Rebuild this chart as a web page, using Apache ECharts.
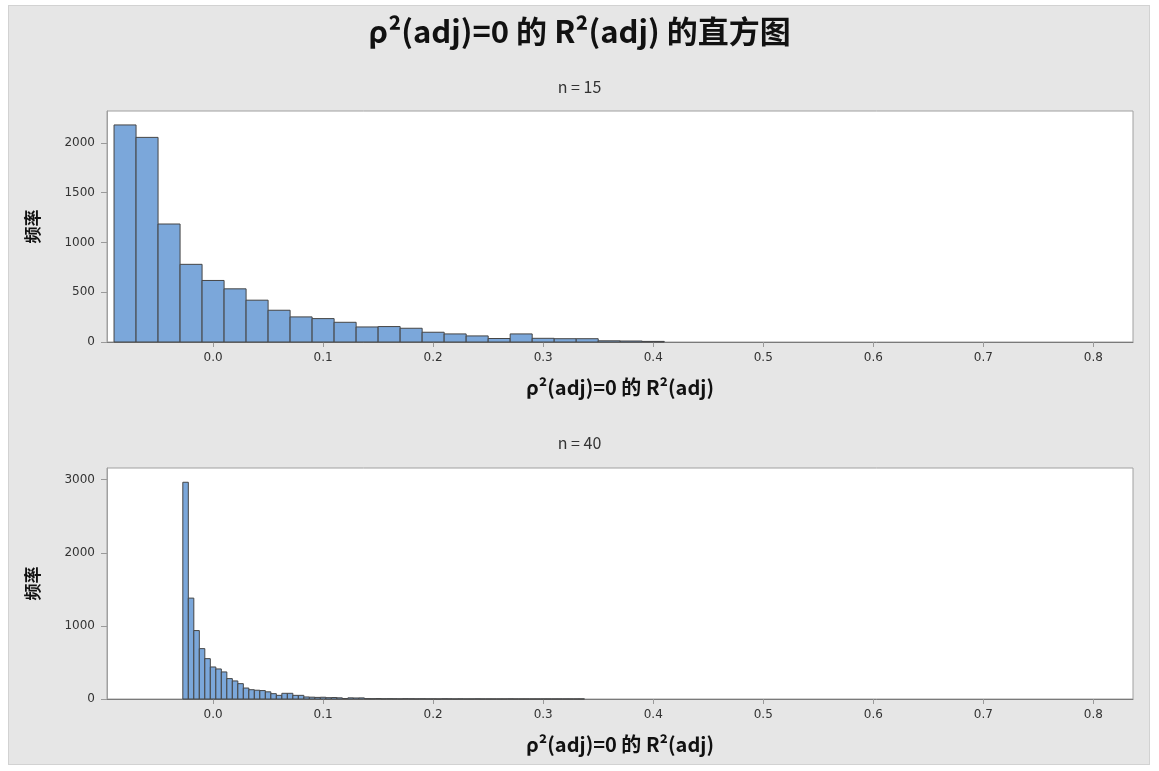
<!DOCTYPE html>
<html>
<head>
<meta charset="utf-8">
<title>R2(adj) 直方图</title>
<script src="https://cdn.jsdelivr.net/npm/echarts@6/dist/echarts.min.js"></script>
<style>
  html, body { margin: 0; padding: 0; background: #fff; }
  #frame { position: absolute; left: 8px; top: 5px; width: 1142px; height: 760px; background: #e6e6e6; border: 1px solid #d2d2d2; box-sizing: border-box; }
  #chart { position: absolute; left: 0; top: 0; width: 1159px; height: 771px; }
</style>
</head>
<body>
<div id="frame"></div>
<div id="chart"></div>
<script>
// 横轴刻度（两个面板共用）
var xTicks = [0, 0.1, 0.2, 0.3, 0.4, 0.5, 0.6, 0.7, 0.8]

// n = 15：组宽 0.02，从 -0.09 开始
var topBinStart = -0.09
var topBinWidth = 0.02
var topCounts = [2180, 2055, 1185, 780, 618, 534, 420, 319, 252, 235, 198, 151, 155, 138, 98, 81, 61, 35, 81, 37, 33, 33, 12, 10, 6]
var topYTicks = [0, 500, 1000, 1500, 2000]

// n = 40：组宽 0.005，从 -0.0275 开始
var bottomBinStart = -0.0275
var bottomBinWidth = 0.005
var bottomCounts = [
  2965, 1380, 936, 689, 552, 438, 411, 370, 279, 247, 210, 150, 127, 120, 115, 98, 73, 50, 78, 78, 50, 50,
  28, 25, 22, 24, 18, 20, 16, 6, 16, 14, 15,
  5, 4, 6, 3, 4, 3, 2, 4, 3, 2, 3, 2, 2, 1, 3, 2, 1, 2, 1, 1, 2, 1, 1, 1, 1, 1, 2, 1, 1, 1, 1, 1, 1, 1, 1, 1, 1, 1, 1, 1
]
var bottomYTicks = [0, 1000, 2000, 3000]

var xName = 'ρ²(adj)=0 的 R²(adj)'
var font = 'Noto Sans CJK SC'
var tickFont = 'DejaVu Sans'

function toBins(start, width, counts) {
  return counts.map(function (c, i) {
    return [start + i * width, start + (i + 1) * width, c]
  })
}

function renderBin(params, api) {
  var p0 = api.coord([api.value(0), api.value(2)])
  var p1 = api.coord([api.value(1), 0])
  return {
    type: 'rect',
    shape: { x: p0[0], y: p0[1], width: p1[0] - p0[0], height: p1[1] - p0[1] },
    style: { fill: '#7ba7da', stroke: '#454545', lineWidth: 1 }
  }
}

function xAxisOf(gridIndex) {
  return {
    type: 'value',
    gridIndex: gridIndex,
    min: -0.0964,
    max: 0.836,
    name: xName,
    nameLocation: 'middle',
    nameGap: 35,
    nameTextStyle: { fontFamily: font, fontSize: 20, fontWeight: 'bold', color: '#111' },
    axisLine: { onZero: false, lineStyle: { color: '#7a7a7a' } },
    axisTick: { customValues: xTicks, length: 5, lineStyle: { color: '#9a9a9a' } },
    axisLabel: {
      customValues: xTicks,
      margin: 10,
      fontFamily: tickFont,
      fontSize: 12,
      color: '#333',
      formatter: function (v) { return v.toFixed(1) }
    },
    splitLine: { show: false }
  }
}

function yAxisOf(gridIndex, max, ticks) {
  return {
    type: 'value',
    gridIndex: gridIndex,
    min: 0,
    max: max,
    name: '频率',
    nameLocation: 'middle',
    nameRotate: 90,
    nameGap: 66,
    nameTextStyle: { fontFamily: font, fontSize: 17, fontWeight: 'bold', color: '#111' },
    axisLine: { show: true, onZero: false, lineStyle: { color: '#a0a0a0' } },
    axisTick: { show: true, customValues: ticks, length: 6, lineStyle: { color: '#9a9a9a' } },
    axisLabel: {
      customValues: ticks,
      margin: 12,
      fontFamily: tickFont,
      fontSize: 12,
      color: '#333',
      formatter: function (v) { return String(v) }
    },
    splitLine: { show: false }
  }
}

var chart = echarts.init(document.getElementById('chart'))
chart.setOption({
  backgroundColor: 'transparent',
  animation: false,
  title: [
    {
      text: 'ρ²(adj)=0 的 R²(adj) 的直方图',
      left: 'center',
      top: 11,
      textStyle: { fontFamily: font, fontSize: 31, fontWeight: 'bold', color: '#111' }
    },
    {
      text: 'n = 15',
      left: 'center',
      top: 74,
      textStyle: { fontFamily: font, fontSize: 16, fontWeight: 'normal', color: '#333' }
    },
    {
      text: 'n = 40',
      left: 'center',
      top: 430,
      textStyle: { fontFamily: font, fontSize: 16, fontWeight: 'normal', color: '#333' }
    }
  ],
  grid: [
    { left: 107, right: 26, top: 111, height: 231, show: true, backgroundColor: '#fff', borderColor: '#a0a0a0', borderWidth: 1 },
    { left: 107, right: 26, top: 468, height: 231, show: true, backgroundColor: '#fff', borderColor: '#a0a0a0', borderWidth: 1 }
  ],
  xAxis: [xAxisOf(0), xAxisOf(1)],
  yAxis: [yAxisOf(0, 2320, topYTicks), yAxisOf(1, 3160, bottomYTicks)],
  series: [
    {
      type: 'custom',
      xAxisIndex: 0,
      yAxisIndex: 0,
      renderItem: renderBin,
      encode: { x: [0, 1], y: 2 },
      data: toBins(topBinStart, topBinWidth, topCounts)
    },
    {
      type: 'custom',
      xAxisIndex: 1,
      yAxisIndex: 1,
      renderItem: renderBin,
      encode: { x: [0, 1], y: 2 },
      data: toBins(bottomBinStart, bottomBinWidth, bottomCounts)
    }
  ]
})
</script>
</body>
</html>
